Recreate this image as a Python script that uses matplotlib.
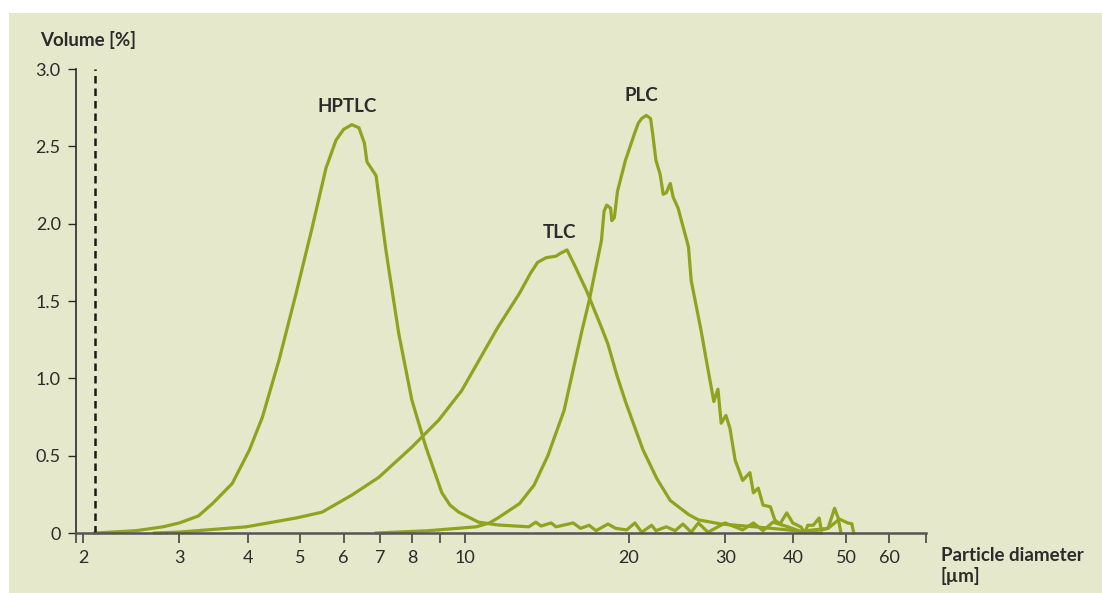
# Particle size distribution of HPTLC, TLC and PLC silica gel
import matplotlib
matplotlib.use("Agg")
import matplotlib.pyplot as plt
from matplotlib.patches import Rectangle

plt.rcParams['font.family'] = ['Lato', 'DejaVu Sans']

# particle diameter [um] and volume [%]
hptlc_x = [2.1, 2.5, 2.8, 3.0, 3.25, 3.45, 3.75, 4.03, 4.26, 4.57, 4.91, 5.25, 5.57, 5.81,
           6.0, 6.21, 6.40, 6.55, 6.62, 6.88, 7.17, 7.57, 8.0, 8.49, 9.08, 9.4, 9.75,
           10.6, 11.5, 13.1, 13.5, 13.8, 14.4, 14.7, 15.8, 16.3, 16.9, 17.4, 18.3,
           18.9, 19.8, 20.5, 21.1, 22.0, 22.4, 23.4, 24.3, 25.1, 26.0, 26.8, 27.9,
           30.0, 32.3, 33.8, 35.2, 36.7, 39.1, 41.3, 43.5, 46.3, 48.6, 50.3, 51.2, 51.6]
hptlc_y = [0.0, 0.015, 0.04, 0.065, 0.11, 0.19, 0.32, 0.535, 0.75, 1.12, 1.55, 1.97, 2.36,
           2.54, 2.61, 2.64, 2.62, 2.52, 2.40, 2.31, 1.83, 1.29, 0.86, 0.555, 0.26, 0.18,
           0.135, 0.07, 0.052, 0.04, 0.07, 0.045, 0.065, 0.04, 0.065, 0.03, 0.05, 0.015,
           0.058, 0.03, 0.02, 0.065, 0.005, 0.05, 0.015, 0.04, 0.015, 0.058, 0.005, 0.065,
           0.005, 0.065, 0.02, 0.065, 0.015, 0.07, 0.04, 0.01, 0.02, 0.03, 0.09, 0.065,
           0.06, 0.0]

tlc_x = [2.7, 3.0, 3.98, 4.91, 5.48, 6.21, 6.96, 8.0, 8.96, 9.87, 11.5, 12.6, 13.2,
         13.6, 14.1, 14.7, 15.0, 15.4, 15.95, 16.7, 17.8, 18.3, 19.0, 19.7, 21.2,
         22.5, 23.8, 25.7, 26.8, 29.5, 34.0, 39.1, 42.0, 45.0]
tlc_y = [0.0, 0.006, 0.04, 0.097, 0.135, 0.245, 0.36, 0.555, 0.73, 0.92, 1.33, 1.55, 1.68,
         1.75, 1.78, 1.79, 1.81, 1.83, 1.72, 1.57, 1.33, 1.22, 1.02, 0.85, 0.54,
         0.35, 0.21, 0.12, 0.085, 0.058, 0.04, 0.02, 0.006, 0.0]

plc_x = [6.88, 8.59, 10.5, 11.1, 11.5, 12.6, 13.4, 14.2, 15.2, 16.4, 16.9, 17.4, 17.8,
         18.0, 18.2, 18.5, 18.6, 18.8, 19.05, 19.7, 20.5, 20.8, 21.1, 21.5, 21.9, 22.1,
         22.4, 22.8, 23.1, 23.4, 23.8, 24.1, 24.6, 25.7, 26.0, 27.1, 27.7, 28.6,
         29.1, 29.5, 30.1, 30.6, 31.3, 32.3, 33.3, 33.8, 34.5, 35.2, 36.3, 37.0,
         37.8, 38.9, 39.9, 41.3, 42.0, 42.5, 43.5, 44.6, 45.0, 46.3, 47.6, 48.3, 48.9]
plc_y = [0.0, 0.015, 0.04, 0.065, 0.097, 0.19, 0.31, 0.5, 0.79, 1.31, 1.50, 1.72, 1.89,
         2.08, 2.12, 2.10, 2.02, 2.04, 2.21, 2.41, 2.59, 2.65, 2.68, 2.70, 2.68, 2.58,
         2.41, 2.32, 2.19, 2.20, 2.26, 2.17, 2.10, 1.85, 1.63, 1.31, 1.12, 0.85,
         0.93, 0.71, 0.76, 0.68, 0.47, 0.34, 0.39, 0.26, 0.29, 0.18, 0.17, 0.084,
         0.058, 0.13, 0.065, 0.039, 0.0, 0.05, 0.05, 0.097, 0.02, 0.03, 0.16, 0.10, 0.0]

x_ticks = [1.94, 2, 3, 4, 5, 6, 7, 8, 9, 10, 20, 30, 40, 50, 60, 70]
x_labels = ['', '2', '3', '4', '5', '6', '7', '8', '', '10', '20', '30', '40', '50', '60', '']
y_ticks = [0, 0.5, 1.0, 1.5, 2.0, 2.5, 3.0]
y_labels = ['0', '0.5', '1.0', '1.5', '2.0', '2.5', '3.0']

green = '#8fa31e'
ink = '#2b2b2b'

fig = plt.figure(figsize=(11.02, 5.93), dpi=100)
fig.patch.set_facecolor('white')
fig.patches.append(Rectangle((9 / 1102, 0), 1, 580 / 593, transform=fig.transFigure,
                             facecolor='#e5e8ca', edgecolor='none', zorder=-10))

ax = fig.add_axes([76 / 1102, 60 / 593, 850 / 1102, 464 / 593])
ax.set_facecolor('none')
ax.set_xscale('log')
ax.set_xlim(1.94, 70)
ax.set_ylim(0, 3.0)

for xs, ys in [(hptlc_x, hptlc_y), (tlc_x, tlc_y), (plc_x, plc_y)]:
    ax.plot(xs, ys, color=green, lw=2.3, solid_joinstyle='round', clip_on=False)

ax.plot([2.1, 2.1], [0, 3.0], color='#1a1a1a', lw=1.8, dashes=(3, 2))

ax.set_xticks(x_ticks)
ax.set_xticklabels(x_labels)
ax.xaxis.set_minor_locator(matplotlib.ticker.NullLocator())
ax.set_yticks(y_ticks)
ax.set_yticklabels(y_labels)
ax.tick_params(axis='x', direction='out', length=7, width=1.2, color='#444444',
               labelsize=13, labelcolor=ink, pad=5)
ax.tick_params(axis='y', direction='out', length=6, width=1.0, color=ink,
               labelsize=13, labelcolor=ink, pad=5)

for s in ['top', 'right']:
    ax.spines[s].set_visible(False)
ax.spines['bottom'].set_color('#555555')
ax.spines['bottom'].set_linewidth(1.8)
ax.spines['left'].set_color(ink)
ax.spines['left'].set_linewidth(1.2)

ax.text(6.08, 2.76, 'HPTLC', ha='center', va='center', fontsize=13.5, fontweight='bold', color=ink)
ax.text(14.9, 1.94, 'TLC', ha='center', va='center', fontsize=13.5, fontweight='bold', color=ink)
ax.text(21.1, 2.83, 'PLC', ha='center', va='center', fontsize=13.5, fontweight='bold', color=ink)

fig.text(40 / 1102, 1 - 40 / 593, 'Volume [%]', ha='left', va='center',
         fontsize=13.5, fontweight='bold', color=ink)
fig.text(941 / 1102, 1 - 566 / 593, 'Particle diameter\n[µm]', ha='left', va='center',
         fontsize=13.5, fontweight='bold', color=ink, linespacing=1.25)

fig.savefig('out.png', dpi=100)
